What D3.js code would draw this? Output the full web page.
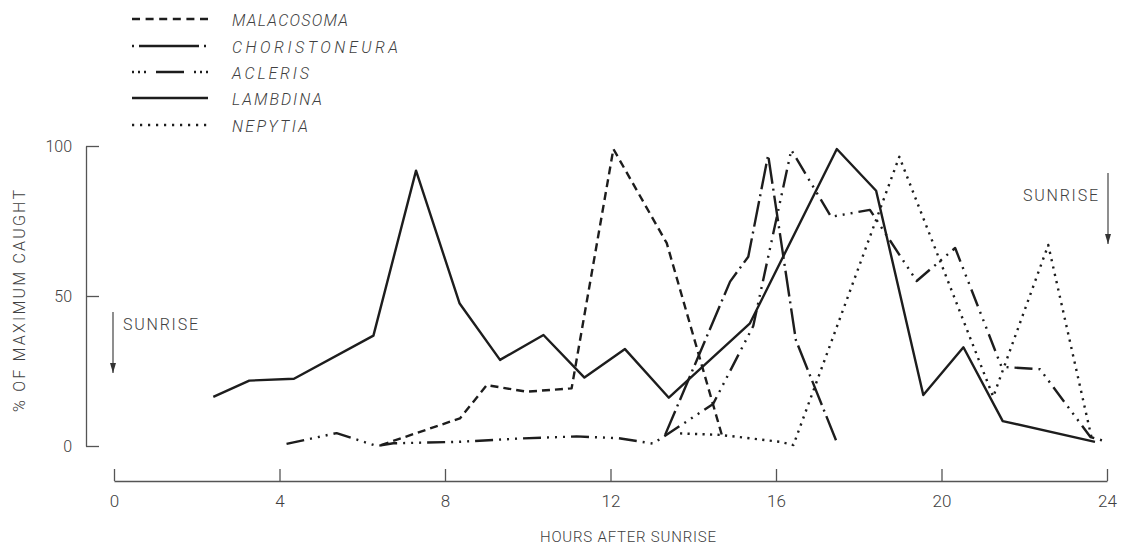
<!DOCTYPE html>
<html><head><meta charset="utf-8">
<script src="https://cdn.jsdelivr.net/npm/d3@7"></script>
<style>body{margin:0;background:#fff} svg{display:block}</style>
</head><body>
<svg id="chart" width="1123" height="545"></svg>
<script>
// ---------- data ----------
const seriesNames = ["MALACOSOMA", "CHORISTONEURA", "ACLERIS", "LAMBDINA", "NEPYTIA"];

const malacosomaHours = [6.45, 8.36, 9.01, 9.97, 11.06, 12.07, 13.36, 14.69];
const malacosomaPct   = [0.3, 9.2, 20.3, 18.1, 19.2, 99, 67.6, 3.7];

const choristoneuraHours = [13.32, 14.89, 15.33, 15.81, 16.48, 17.48];
const choristoneuraPct   = [3.7, 54.8, 63.1, 97, 35.3, 0.9];

const aclerisHours = [4.17, 5.38, 6.35, 6.75, 8.36, 9.8, 11.18, 12.2, 13.03, 14.48, 15.45, 16.37, 17.33, 18.27, 19.4, 20.33, 21.45, 22.38, 23.6, 24.0];
const aclerisPct   = [0.7, 4.3, 0, 0.9, 1.4, 2.5, 3.2, 2.6, 0.8, 14, 40, 98.7, 76.4, 78.7, 55, 66, 26.4, 25.6, 3, 1.4];

const lambdinaHours = [2.40, 3.27, 4.35, 6.27, 7.30, 8.35, 9.33, 10.38, 11.37, 12.35, 13.41, 15.37, 17.47, 18.42, 19.56, 20.53, 21.48, 23.71];
const lambdinaPct   = [16.4, 21.8, 22.4, 36.8, 91.8, 47.6, 28.7, 37, 22.8, 32.3, 16.1, 40.9, 99, 85.1, 17, 32.9, 8.3, 1.4];

const nepytiaHours = [13.68, 14.65, 16.1, 16.42, 18.98, 21.25, 22.58, 23.63];
const nepytiaPct   = [4.2, 3.7, 1.4, 0.3, 96.4, 16.4, 67, 2.6];

const xTicks = [0, 4, 8, 12, 16, 20, 24];
const yTicks = [0, 50, 100];
const sunriseHours = [0, 24];

// ---------- setup ----------
const svg = d3.select("#chart");
const FONT = "Roboto, 'Open Sans', 'DejaVu Sans', sans-serif";
const INK = "#1d1d1d", AXIS = "#555", TXT = "#404040";

const x = d3.scaleLinear().domain([0, 24]).range([114, 1107]);
const y = d3.scaleLinear().domain([0, 100]).range([446, 146]);

const styles = {
  MALACOSOMA:    { dash: "8,5",               legendDash: "8,5.6" },
  CHORISTONEURA: { dash: "26,5,2,5",          legendDash: "2,5,60,5,2,100" },
  ACLERIS:       { dash: "18,6,2,6,2,6,2,6",  legendDash: "2,4,2,4,2,10,28,10,2,4,2,4,2,100" },
  LAMBDINA:      { dash: null,                legendDash: null },
  NEPYTIA:       { dash: "2.2,5.3",           legendDash: "2.2,5.8" }
};

const seriesData = {
  MALACOSOMA: d3.zip(malacosomaHours, malacosomaPct),
  CHORISTONEURA: d3.zip(choristoneuraHours, choristoneuraPct),
  ACLERIS: d3.zip(aclerisHours, aclerisPct),
  LAMBDINA: d3.zip(lambdinaHours, lambdinaPct),
  NEPYTIA: d3.zip(nepytiaHours, nepytiaPct)
};

// ---------- axes ----------
const yAxis = d3.axisLeft(y).tickValues(yTicks).tickSizeInner(-13).tickSizeOuter(0).tickPadding(14);
const gy = svg.append("g").attr("transform", "translate(86,0)").call(yAxis);
gy.selectAll("path, line").attr("stroke", AXIS).attr("stroke-width", 1.3);
gy.selectAll("text").attr("font-family", FONT).attr("font-weight", 300).attr("font-size", 16).attr("fill", TXT);

const xAxis = d3.axisBottom(x).tickValues(xTicks).tickSizeInner(-12).tickSizeOuter(0).tickPadding(14);
const gx = svg.append("g").attr("transform", "translate(0,481)").call(xAxis);
gx.selectAll("path, line").attr("stroke", AXIS).attr("stroke-width", 1.3);
gx.selectAll("text").attr("font-family", FONT).attr("font-weight", 300).attr("font-size", 17).attr("fill", TXT);

// axis titles
svg.append("text")
  .attr("x", 628).attr("y", 542).attr("text-anchor", "middle")
  .attr("font-family", FONT).attr("font-weight", 300).attr("font-size", 15).attr("fill", TXT)
  .attr("textLength", 176).attr("lengthAdjust", "spacing")
  .text("HOURS AFTER SUNRISE");

svg.append("text")
  .attr("transform", "translate(25,301) rotate(-90)").attr("text-anchor", "middle")
  .attr("font-family", FONT).attr("font-weight", 300).attr("font-size", 16).attr("fill", TXT)
  .attr("textLength", 222).attr("lengthAdjust", "spacing")
  .text("% OF MAXIMUM CAUGHT");

// ---------- series ----------
const line = d3.line().x(d => x(d[0])).y(d => y(d[1]));
seriesNames.forEach(name => {
  svg.append("path")
    .datum(seriesData[name])
    .attr("d", line)
    .attr("fill", "none")
    .attr("stroke", INK)
    .attr("stroke-width", 2.4)
    .attr("stroke-linejoin", "round")
    .attr("stroke-dasharray", styles[name].dash);
});

// ---------- sunrise markers ----------
const defs = svg.append("defs");
defs.append("marker").attr("id", "ah").attr("viewBox", "0 0 10 10")
  .attr("refX", 10).attr("refY", 5).attr("markerWidth", 10).attr("markerHeight", 10)
  .attr("markerUnits", "userSpaceOnUse").attr("orient", "auto")
  .append("path").attr("d", "M0,2 L10,5 L0,8 Z").attr("fill", "#333");

const sunriseLayout = [
  { top: 312, bottom: 373, textX: 123, textY: 330, anchor: "start", dx: -1 },
  { top: 173, bottom: 244, textX: 1098, textY: 201, anchor: "end", dx: 1 }
];
sunriseHours.forEach((h, i) => {
  const L = sunriseLayout[i];
  svg.append("line")
    .attr("x1", x(h) + L.dx).attr("x2", x(h) + L.dx)
    .attr("y1", L.top).attr("y2", L.bottom)
    .attr("stroke", "#444").attr("stroke-width", 1.2)
    .attr("marker-end", "url(#ah)");
  svg.append("text")
    .attr("x", L.textX).attr("y", L.textY).attr("text-anchor", L.anchor)
    .attr("font-family", FONT).attr("font-weight", 300).attr("font-size", 16).attr("fill", TXT)
    .attr("textLength", 75).attr("lengthAdjust", "spacing")
    .text("SUNRISE");
});

// ---------- legend ----------
const legendY = [19, 46, 72, 98, 125];
const legendTextLen = [116, 166, 77, 90, 76];
const lg = svg.append("g");
seriesNames.forEach((name, i) => {
  lg.append("line")
    .attr("x1", 132).attr("x2", 208).attr("y1", legendY[i]).attr("y2", legendY[i])
    .attr("stroke", INK).attr("stroke-width", 2.4)
    .attr("stroke-dasharray", styles[name].legendDash);
  lg.append("text")
    .attr("x", 232).attr("y", legendY[i] + 7)
    .attr("font-family", FONT).attr("font-weight", 300).attr("font-style", "italic")
    .attr("font-size", 16).attr("fill", TXT)
    .attr("textLength", legendTextLen[i]).attr("lengthAdjust", "spacing")
    .text(name);
});
</script>
</body></html>
